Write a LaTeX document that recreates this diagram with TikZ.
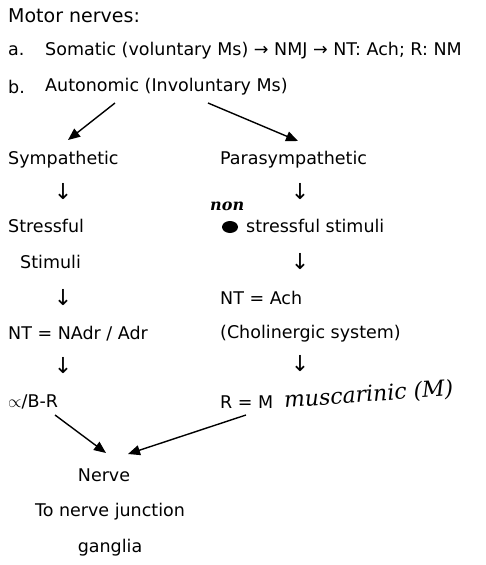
\documentclass[tikz,border=0pt]{standalone}
\usepackage{fontspec}
\setmainfont{DejaVu Sans}
\newfontfamily\handfont{DejaVu Serif}
\usetikzlibrary{arrows.meta}

\tikzset{
  txt/.style={anchor=west, inner sep=0pt, font=\fontsize{17.5}{20}\selectfont},
  ctxt/.style={inner sep=0pt, font=\fontsize{17.5}{20}\selectfont},
  down/.style={inner sep=0pt, font=\fontsize{22}{24}\selectfont},
  hand/.style={anchor=west, inner sep=0pt, font=\handfont\itshape\fontsize{22}{24}\selectfont},
  branch/.style={-{Triangle[length=12pt,width=10pt]}, line width=1.4pt}
}

\begin{document}
\begin{tikzpicture}[x=1pt,y=-1pt]
\useasboundingbox (0,0) rectangle (485,565);

% Heading
\node[txt, font=\fontsize{19}{22}\selectfont] (motor) at (8,16) {Motor nerves:};
\node[txt] (ia) at (8,51) {a.};
\node[txt] (somatic) at (45,51) {Somatic (voluntary Ms) \textrightarrow{} NMJ \textrightarrow{} NT: Ach; R: NM};
\node[txt] (ib) at (8,87) {b.};
\node[txt] (auto) at (45,87) {Autonomic (Involuntary Ms)};

% Sympathetic column
\node[txt] (symp) at (8,160) {Sympathetic};
\node[down] (sd1) at (63,192) {\textdownarrow};
\node[txt] (stress) at (8,226) {Stressful};
\node[txt] (stim) at (20,262) {Stimuli};
\node[down] (sd2) at (63,298) {\textdownarrow};
\node[txt] (nadr) at (8,334) {NT = NAdr / Adr};
\node[down] (sd3) at (63,366) {\textdownarrow};
\node[txt] (alpha) at (8,402) {$\propto$/B-R};

% Parasympathetic column
\node[txt] (para) at (220,160) {Parasympathetic};
\node[down] (pd1) at (300,192) {\textdownarrow};
\fill (230,227) ellipse (8pt and 6pt);
\node[hand, font=\handfont\itshape\bfseries\fontsize{16}{18}\selectfont] (non) at (210,206) {non};
\node[txt] (nstress) at (246,226) {stressful stimuli};
\node[down] (pd2) at (300,262) {\textdownarrow};
\node[txt] (ach) at (220,298) {NT = Ach};
\node[txt] (chol) at (220,334) {(Cholinergic system)};
\node[down] (pd3) at (300,364) {\textdownarrow};
\node[txt] (rm) at (220,402) {R = M};
\node[hand, rotate=4] (musc) at (284,401) {muscarinic (M)};

% Nerve
\node[ctxt] (nerve) at (104,475) {Nerve};
\node[ctxt] (junc) at (110,512) {To nerve junction};
\node[ctxt] (gang) at (110,548) {ganglia};

% Branch arrows
\coordinate (al) at (115,103);
\coordinate (ar) at (208,103);
\coordinate (tl) at (68,140);
\coordinate (tr) at (298,141);
\coordinate (bl) at (55,415);
\coordinate (br) at (246,415);
\coordinate (nl) at (106,453);
\coordinate (nr) at (128,454);
\draw[branch] (al) -- (tl);
\draw[branch] (ar) -- (tr);
\draw[branch] (bl) -- (nl);
\draw[branch] (br) -- (nr);
\end{tikzpicture}
\end{document}
